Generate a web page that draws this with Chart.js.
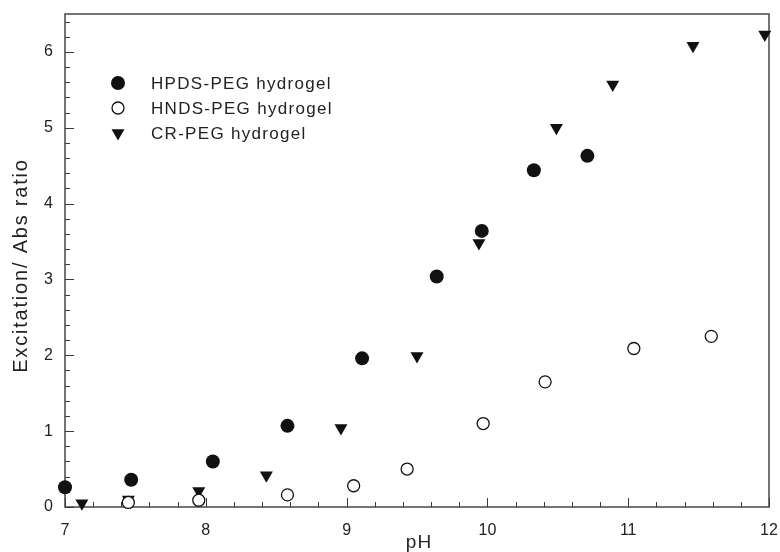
<!DOCTYPE html>
<html>
<head>
<meta charset="utf-8">
<script src="https://cdn.jsdelivr.net/npm/chart.js@4.4.1/dist/chart.umd.min.js"></script>
<style>
  html, body { margin: 0; padding: 0; background: #fff; }
  #wrap { width: 780px; height: 552px; }
</style>
</head>
<body>
<div id="wrap"><canvas id="myChart"></canvas></div>
<script>
// data
var hpdsPH  = [7.00, 7.47, 8.05, 8.58, 9.11, 9.64, 9.96, 10.33, 10.71];
var hpdsVal = [0.26, 0.36, 0.60, 1.07, 1.96, 3.04, 3.64, 4.44, 4.63];

var hndsPH  = [7.45, 7.95, 8.58, 9.05, 9.43, 9.97, 10.41, 11.04, 11.59];
var hndsVal = [0.06, 0.09, 0.16, 0.28, 0.50, 1.10, 1.65, 2.09, 2.25];

var crPH  = [7.12, 7.45, 7.95, 8.43, 8.96, 9.50, 9.94, 10.49, 10.89, 11.46, 11.97];
var crVal = [0.05, 0.10, 0.21, 0.42, 1.04, 1.99, 3.48, 5.00, 5.57, 6.08, 6.23];

var seriesNames = ['HPDS-PEG hydrogel', 'HNDS-PEG hydrogel', 'CR-PEG hydrogel'];
var xTickLabels = [7, 8, 9, 10, 11, 12];
var yTickLabels = [0, 1, 2, 3, 4, 5, 6];

function toPoints(xs, ys) {
    return xs.map(function(x, i) { return {x: x, y: ys[i]}; });
}

var ink = '#111';
var frameCol = '#3a3a3a';

// frame, inward ticks, axis titles and legend
var decor = {
    id: 'decor',
    beforeDatasetsDraw: function(chart) {
        var ctx = chart.ctx, a = chart.chartArea;
        var xs = chart.scales.x, ys = chart.scales.y;
        ctx.save();
        ctx.strokeStyle = frameCol;
        ctx.lineWidth = 1.4;
        ctx.strokeRect(a.left, a.top, a.right - a.left, a.bottom - a.top);

        ctx.lineWidth = 1;
        ctx.beginPath();
        for (var i = 0; i <= 25; i++) {
            var v = 7 + i * 0.2;
            var px = Math.round(xs.getPixelForValue(v)) + 0.5;
            var len = (i % 5 === 0) ? 9 : 5;
            ctx.moveTo(px, a.bottom);
            ctx.lineTo(px, a.bottom - len);
        }
        for (var j = 0; j <= 32; j++) {
            var w = j * 0.2;
            var py = Math.round(ys.getPixelForValue(w)) + 0.5;
            var ln = (j % 5 === 0) ? 9 : 5;
            ctx.moveTo(a.left, py);
            ctx.lineTo(a.left + ln, py);
        }
        ctx.stroke();
        ctx.restore();
    },
    afterDraw: function(chart) {
        var ctx = chart.ctx, a = chart.chartArea;
        ctx.save();
        ctx.fillStyle = '#222';

        // y title
        ctx.font = '20px "Liberation Sans", Arial, sans-serif';
        ctx.letterSpacing = '1.8px';
        ctx.textAlign = 'center';
        ctx.textBaseline = 'middle';
        ctx.save();
        ctx.translate(21, (a.top + a.bottom) / 2 + 5);
        ctx.rotate(-Math.PI / 2);
        ctx.fillText('Excitation/ Abs ratio', 0, 0);
        ctx.restore();

        // x title
        ctx.font = '19px "Liberation Sans", Arial, sans-serif';
        ctx.letterSpacing = '1px';
        ctx.fillText('pH', (a.left + a.right) / 2 + 2, 543);

        // legend
        var lx = a.left + 53, ly = a.top + 69, gap = 25;
        ctx.font = '17px "Liberation Sans", Arial, sans-serif';
        ctx.letterSpacing = '1.3px';
        ctx.textAlign = 'left';
        chart.data.datasets.forEach(function(ds, k) {
            var cy = ly + k * gap;
            ctx.fillStyle = ds.backgroundColor;
            ctx.strokeStyle = ds.borderColor;
            ctx.lineWidth = ds.borderWidth || 1;
            ctx.beginPath();
            if (ds.pointStyle === 'triangle') {
                var r = ds.pointRadius;
                ctx.moveTo(lx - r * 0.866, cy - r * 0.5);
                ctx.lineTo(lx + r * 0.866, cy - r * 0.5);
                ctx.lineTo(lx, cy + r);
                ctx.closePath();
                ctx.fill();
            } else {
                ctx.arc(lx, cy, ds.pointRadius, 0, Math.PI * 2);
                ctx.fill();
                if (ds.borderWidth) ctx.stroke();
            }
            ctx.fillStyle = '#222';
            ctx.fillText(ds.label, lx + 33, cy + 1);
        });
        ctx.restore();
    }
};

var ctx = document.getElementById('myChart').getContext('2d');
var chart = new Chart(ctx, {
    type: 'scatter',
    data: {
        datasets: [{
            label: seriesNames[0],
            data: toPoints(hpdsPH, hpdsVal),
            pointStyle: 'circle',
            pointRadius: 7,
            backgroundColor: ink,
            borderColor: ink,
            borderWidth: 0,
            clip: false
        },
        {
            label: seriesNames[1],
            data: toPoints(hndsPH, hndsVal),
            pointStyle: 'circle',
            pointRadius: 6,
            backgroundColor: '#fff',
            borderColor: ink,
            borderWidth: 1.3,
            clip: false
        },
        {
            label: seriesNames[2],
            data: toPoints(crPH, crVal),
            pointStyle: 'triangle',
            rotation: 180,
            pointRadius: 7.5,
            backgroundColor: ink,
            borderColor: ink,
            borderWidth: 0,
            clip: false
        }]
    },
    options: {
        responsive: true,
        maintainAspectRatio: false,
        animation: false,
        layout: { padding: { top: 14, right: 11, left: 0, bottom: 0 } },
        plugins: {
            legend: { display: false },
            tooltip: { enabled: false }
        },
        scales: {
            x: {
                type: 'linear',
                min: 7,
                max: 12,
                afterFit: function(s) {
                    s.height = 45;
                    s.paddingLeft = 0; s.paddingRight = 0;
                },
                afterBuildTicks: function(s) {
                    s.ticks = xTickLabels.map(function(v) { return {value: v}; });
                },
                grid: { display: false, drawTicks: false },
                border: { display: false },
                ticks: {
                    padding: 14,
                    color: '#222',
                    font: { family: '"Liberation Sans", Arial, sans-serif', size: 16 }
                }
            },
            y: {
                type: 'linear',
                min: 0,
                max: 6.5,
                afterFit: function(s) {
                    s.width = 65;
                    s.paddingTop = 0; s.paddingBottom = 0;
                },
                afterBuildTicks: function(s) {
                    s.ticks = yTickLabels.map(function(v) { return {value: v}; });
                },
                grid: { display: false, drawTicks: false },
                border: { display: false },
                ticks: {
                    padding: 12,
                    color: '#222',
                    font: { family: '"Liberation Sans", Arial, sans-serif', size: 16 }
                }
            }
        }
    },
    plugins: [decor]
});
</script>
</body>
</html>
